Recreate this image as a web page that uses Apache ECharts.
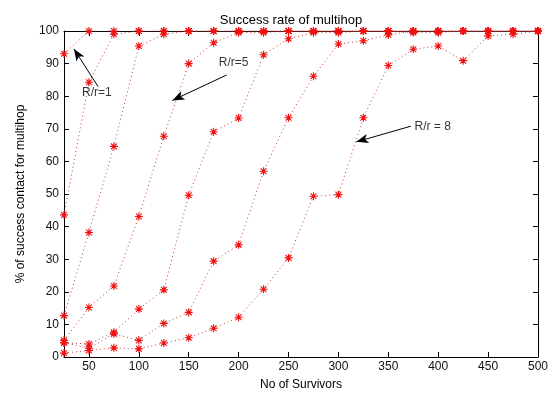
<!DOCTYPE html>
<html>
<head>
<meta charset="utf-8">
<script src="https://cdn.jsdelivr.net/npm/echarts@6/dist/echarts.min.js"></script>
<style>
html,body{margin:0;padding:0;background:#fff;}
#chart{width:551px;height:396px;}
</style>
</head>
<body>
<div id="chart"></div>
<script>
// ---- data ----
var survivors = [25,50,75,100,125,150,175,200,225,250,275,300,325,350,375,400,425,450,475,500];
var s1 = [93,100,100,100,100,100,100,100,100,100,100,100,100,100,100,100,100,100,100,100];
var s2 = [43.6,84.3,99,100,100,100,100,100,100,100,100,100,100,100,100,100,100,100,100,100];
var s3 = [12.7,38.2,64.6,95.4,99,100,100,100,100,100,100,100,100,100,100,100,100,100,100,100];
var s4 = [5.1,15.2,21.8,43.1,67.7,90,96.4,99.5,99.5,100,100,100,100,100,100,100,100,100,100,100];
var s5 = [4.4,4.0,7.6,14.7,20.6,49.6,69.1,73.3,92.7,97.6,99.5,99.5,100,100,99.5,99.5,100,100,100,100];
var s6 = [4.4,2.7,7.1,5.1,10.3,13.7,29.4,34.4,57,73.4,86.1,96,97,98.8,100,100,100,100,100,100];
var s7 = [1.2,2.0,2.8,2.5,4.3,5.9,8.8,12.2,20.8,30.4,49.3,49.8,73.4,89.4,94.4,95.4,90.9,98.5,99,100];
var allSeries = [s1,s2,s3,s4,s5,s6,s7];
var xTicks = [50,100,150,200,250,300,350,400,450,500];
var titleText = 'Success rate of multihop';
var xLabel = 'No of Survivors';
var yLabel = '% of success contact for multihop';
// annotations: [label, textX, textY, tailX, tailY, headX, headY] in data units
var annotations = [
  ['R/r=1', 58, 81, 59, 83, 35, 94.5],
  ['R/r=5', 195, 90.3, 188, 86.5, 133.6, 78.7],
  ['R/r = 8', 394.5, 70.8, 372.6, 70.8, 318, 66]
];

var FONT = '"Liberation Sans", Arial, sans-serif';
var star = 'path://M0,-4L0,4M-4,0L4,0M-2.9,-2.9L2.9,2.9M-2.9,2.9L2.9,-2.9';

var series = allSeries.map(function (vals, i) {
  return {
    type: 'line',
    name: 'S' + (i + 1),
    data: survivors.map(function (x, j) { return [x, vals[j]]; }),
    symbol: star,
    symbolSize: 8,
    showAllSymbol: true,
    lineStyle: { color: '#c83a3a', width: 1, type: [1, 3] },
    itemStyle: { color: '#ff0000', borderColor: '#f01010', borderWidth: 1.1 },
    z: 3
  };
});

series.push({
  type: 'line',
  data: [],
  markLine: {
    silent: true,
    symbol: ['none', 'arrow'],
    symbolSize: [7, 12],
    lineStyle: { color: '#000', width: 1, type: 'solid' },
    label: { show: false },
    data: annotations.map(function (a) {
      return [{ coord: [a[3], a[4]] }, { coord: [a[5], a[6]] }];
    })
  },
  z: 4
});

series.push({
  type: 'scatter',
  symbolSize: 0,
  data: annotations.map(function (a) { return { value: [a[1], a[2]], name: a[0] }; }),
  label: {
    show: true,
    position: 'inside',
    formatter: function (p) { return p.name; },
    color: '#000',
    fontSize: 12,
    fontFamily: FONT
  },
  z: 5
});

var chart = echarts.init(document.getElementById('chart'));
chart.setOption({
  animation: false,
  backgroundColor: '#fff',
  title: {
    text: titleText,
    left: 286, top: 9, textAlign: 'center',
    textStyle: { fontSize: 13, fontWeight: 'normal', color: '#000', fontFamily: FONT }
  },
  grid: { left: 64, right: 10, top: 31, bottom: 36 },
  xAxis: [{
    type: 'value', min: 25, max: 500,
    name: xLabel, nameLocation: 'middle', nameGap: 22,
    nameTextStyle: { fontSize: 12, color: '#000', fontFamily: FONT },
    axisLine: { show: true, onZero: false, lineStyle: { color: '#000', width: 1 } },
    axisTick: { show: true, inside: true, length: 5, customValues: xTicks, lineStyle: { color: '#000' } },
    axisLabel: { customValues: xTicks, fontSize: 12, color: '#111', fontFamily: FONT, margin: 4 },
    splitLine: { show: false }
  }, {
    type: 'value', min: 25, max: 500, position: 'top',
    axisLine: { show: true, onZero: false, lineStyle: { color: '#000', width: 1 } },
    axisTick: { show: true, inside: true, length: 5, customValues: xTicks, lineStyle: { color: '#000' } },
    axisLabel: { show: false },
    splitLine: { show: false }
  }],
  yAxis: [{
    type: 'value', min: 0, max: 100, interval: 10,
    name: yLabel, nameLocation: 'middle', nameGap: 37, nameRotate: 90,
    nameTextStyle: { fontSize: 12, color: '#000', fontFamily: FONT },
    axisLine: { show: true, onZero: false, lineStyle: { color: '#000', width: 1 } },
    axisTick: { show: true, inside: true, length: 5, lineStyle: { color: '#000' } },
    axisLabel: { fontSize: 12, color: '#111', fontFamily: FONT, margin: 5 },
    splitLine: { show: false }
  }, {
    type: 'value', min: 0, max: 100, interval: 10, position: 'right',
    axisLine: { show: true, onZero: false, lineStyle: { color: '#000', width: 1 } },
    axisTick: { show: true, inside: true, length: 5, lineStyle: { color: '#000' } },
    axisLabel: { show: false },
    splitLine: { show: false }
  }],
  series: series
});
</script>
</body>
</html>
